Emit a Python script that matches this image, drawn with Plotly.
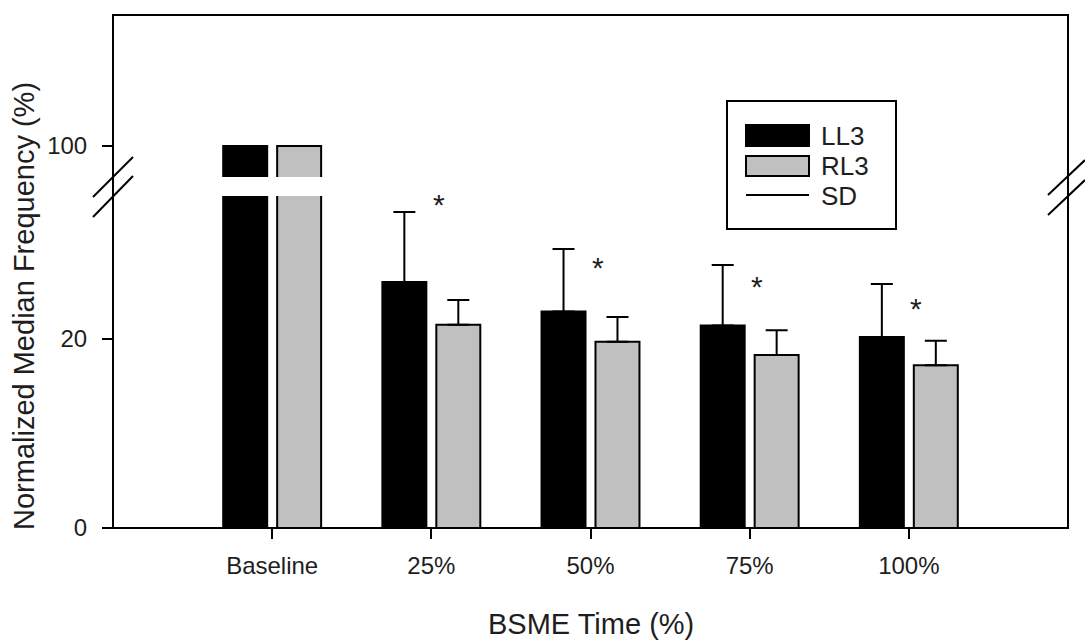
import plotly.graph_objects as go

categories = ["Baseline", "25%", "50%", "75%", "100%"]
ll3_mean = [100, 26.0, 22.9, 21.4, 20.2]
ll3_sd = [0, 7.4, 6.6, 6.4, 5.6]
rl3_mean = [100, 21.5, 19.7, 18.3, 17.2]
rl3_sd = [0, 2.6, 2.6, 2.6, 2.6]
sig_y = [None, 34.9, 28.3, 26.3, 23.9]
series_names = ["LL3", "RL3", "SD"]

BLACK = "#000000"
GRAY = "#c0c0c0"
TXT = "#1e1e1e"
FONT = "Liberation Sans, Arial, sans-serif"

W, H = 1085, 641
ML, MR, MT, MB = 113, 17, 15, 113
PW, PH = W - ML - MR, H - MT - MB


def px(x):
    return (x - ML) / PW


def py(y):
    return (H - MB - y) / PH


xpos = list(range(len(categories)))

fig = go.Figure()
for axis in ["y", "y2"]:
    lower = axis == "y"
    fig.add_trace(go.Bar(
        x=xpos, y=ll3_mean, name=series_names[0], yaxis=axis,
        marker=dict(color=BLACK, line=dict(color=BLACK, width=2)),
        error_y=dict(type="data", symmetric=False, array=ll3_sd,
                     arrayminus=[0] * len(ll3_sd), color=BLACK,
                     thickness=2, width=11, visible=lower),
        showlegend=False,
    ))
    fig.add_trace(go.Bar(
        x=xpos, y=rl3_mean, name=series_names[1], yaxis=axis,
        marker=dict(color=GRAY, line=dict(color=BLACK, width=2)),
        error_y=dict(type="data", symmetric=False, array=rl3_sd,
                     arrayminus=[0] * len(rl3_sd), color=BLACK,
                     thickness=2, width=11, visible=lower),
        showlegend=False,
    ))

low_top = py(196)
up_bot = py(177)

fig.update_layout(
    width=W, height=H,
    margin=dict(l=ML, r=MR, t=MT, b=MB),
    paper_bgcolor="white", plot_bgcolor="white",
    barmode="group", bargap=0.322, bargroupgap=0.185,
    font=dict(family=FONT, color=TXT, size=24),
    xaxis=dict(range=[-1, 5], tickvals=xpos, ticktext=categories,
               ticks="outside", ticklen=10, tickwidth=2, tickcolor=BLACK,
               showgrid=False, zeroline=False, showline=False,
               tickfont=dict(size=24), ticklabelstandoff=6, anchor="y"),
    yaxis=dict(domain=[0, low_top], range=[0, 35.1], tickvals=[0, 20],
               ticks="outside", ticklen=10, tickwidth=2, tickcolor=BLACK,
               showgrid=False, zeroline=False, showline=False,
               tickfont=dict(size=24), ticklabelstandoff=10),
    yaxis2=dict(domain=[up_bot, 1], range=[96.72, 113.85], tickvals=[100],
                ticks="outside", ticklen=10, tickwidth=2, tickcolor=BLACK,
                showgrid=False, zeroline=False, showline=False,
                tickfont=dict(size=24), ticklabelstandoff=10, anchor="x"),
)

shapes = []
# frame
shapes.append(dict(type="rect", xref="paper", yref="paper", x0=0, y0=0, x1=1, y1=1,
                   line=dict(color=BLACK, width=2), layer="above"))
# break marks
for (x0, y0, x1, y1) in [(93, 197, 133, 157), (93, 217, 133, 176),
                         (1048, 195, 1085, 160), (1048, 215, 1085, 180)]:
    shapes.append(dict(type="line", xref="paper", yref="paper",
                       x0=px(x0), y0=py(y0), x1=px(x1), y1=py(y1),
                       line=dict(color=BLACK, width=2), layer="above"))
# legend box
shapes.append(dict(type="rect", xref="paper", yref="paper",
                   x0=px(727), y0=py(229), x1=px(896), y1=py(101),
                   line=dict(color=BLACK, width=2), fillcolor="white"))
shapes.append(dict(type="rect", xref="paper", yref="paper",
                   x0=px(746), y0=py(146), x1=px(809), y1=py(125),
                   line=dict(color=BLACK, width=2), fillcolor=BLACK))
shapes.append(dict(type="rect", xref="paper", yref="paper",
                   x0=px(746), y0=py(176), x1=px(809), y1=py(156),
                   line=dict(color=BLACK, width=2), fillcolor=GRAY))
shapes.append(dict(type="line", xref="paper", yref="paper",
                   x0=px(746), y0=py(195), x1=px(809), y1=py(195),
                   line=dict(color=BLACK, width=2)))
fig.update_layout(shapes=shapes)

annotations = []
for name, yy in zip(series_names, [136, 166, 196]):
    annotations.append(dict(text=name, xref="paper", yref="paper", x=px(819), y=py(yy),
                            xanchor="left", yanchor="middle", showarrow=False,
                            font=dict(size=26)))
for i, v in enumerate(sig_y):
    if v is not None:
        annotations.append(dict(text="*", x=xpos[i] + 0.045, y=v, xref="x", yref="y",
                                xanchor="center", yanchor="middle", yshift=-7,
                                showarrow=False, font=dict(size=30)))
annotations.append(dict(text="BSME Time (%)", xref="paper", yref="paper",
                        x=px(591), y=py(624), xanchor="center", yanchor="middle",
                        showarrow=False, font=dict(size=29)))
annotations.append(dict(text="Normalized Median Frequency (%)", xref="paper", yref="paper",
                        x=px(24), y=py(306), xanchor="center", yanchor="middle",
                        textangle=-90, showarrow=False, font=dict(size=29)))
fig.update_layout(annotations=annotations)

fig.write_html("out.html")
